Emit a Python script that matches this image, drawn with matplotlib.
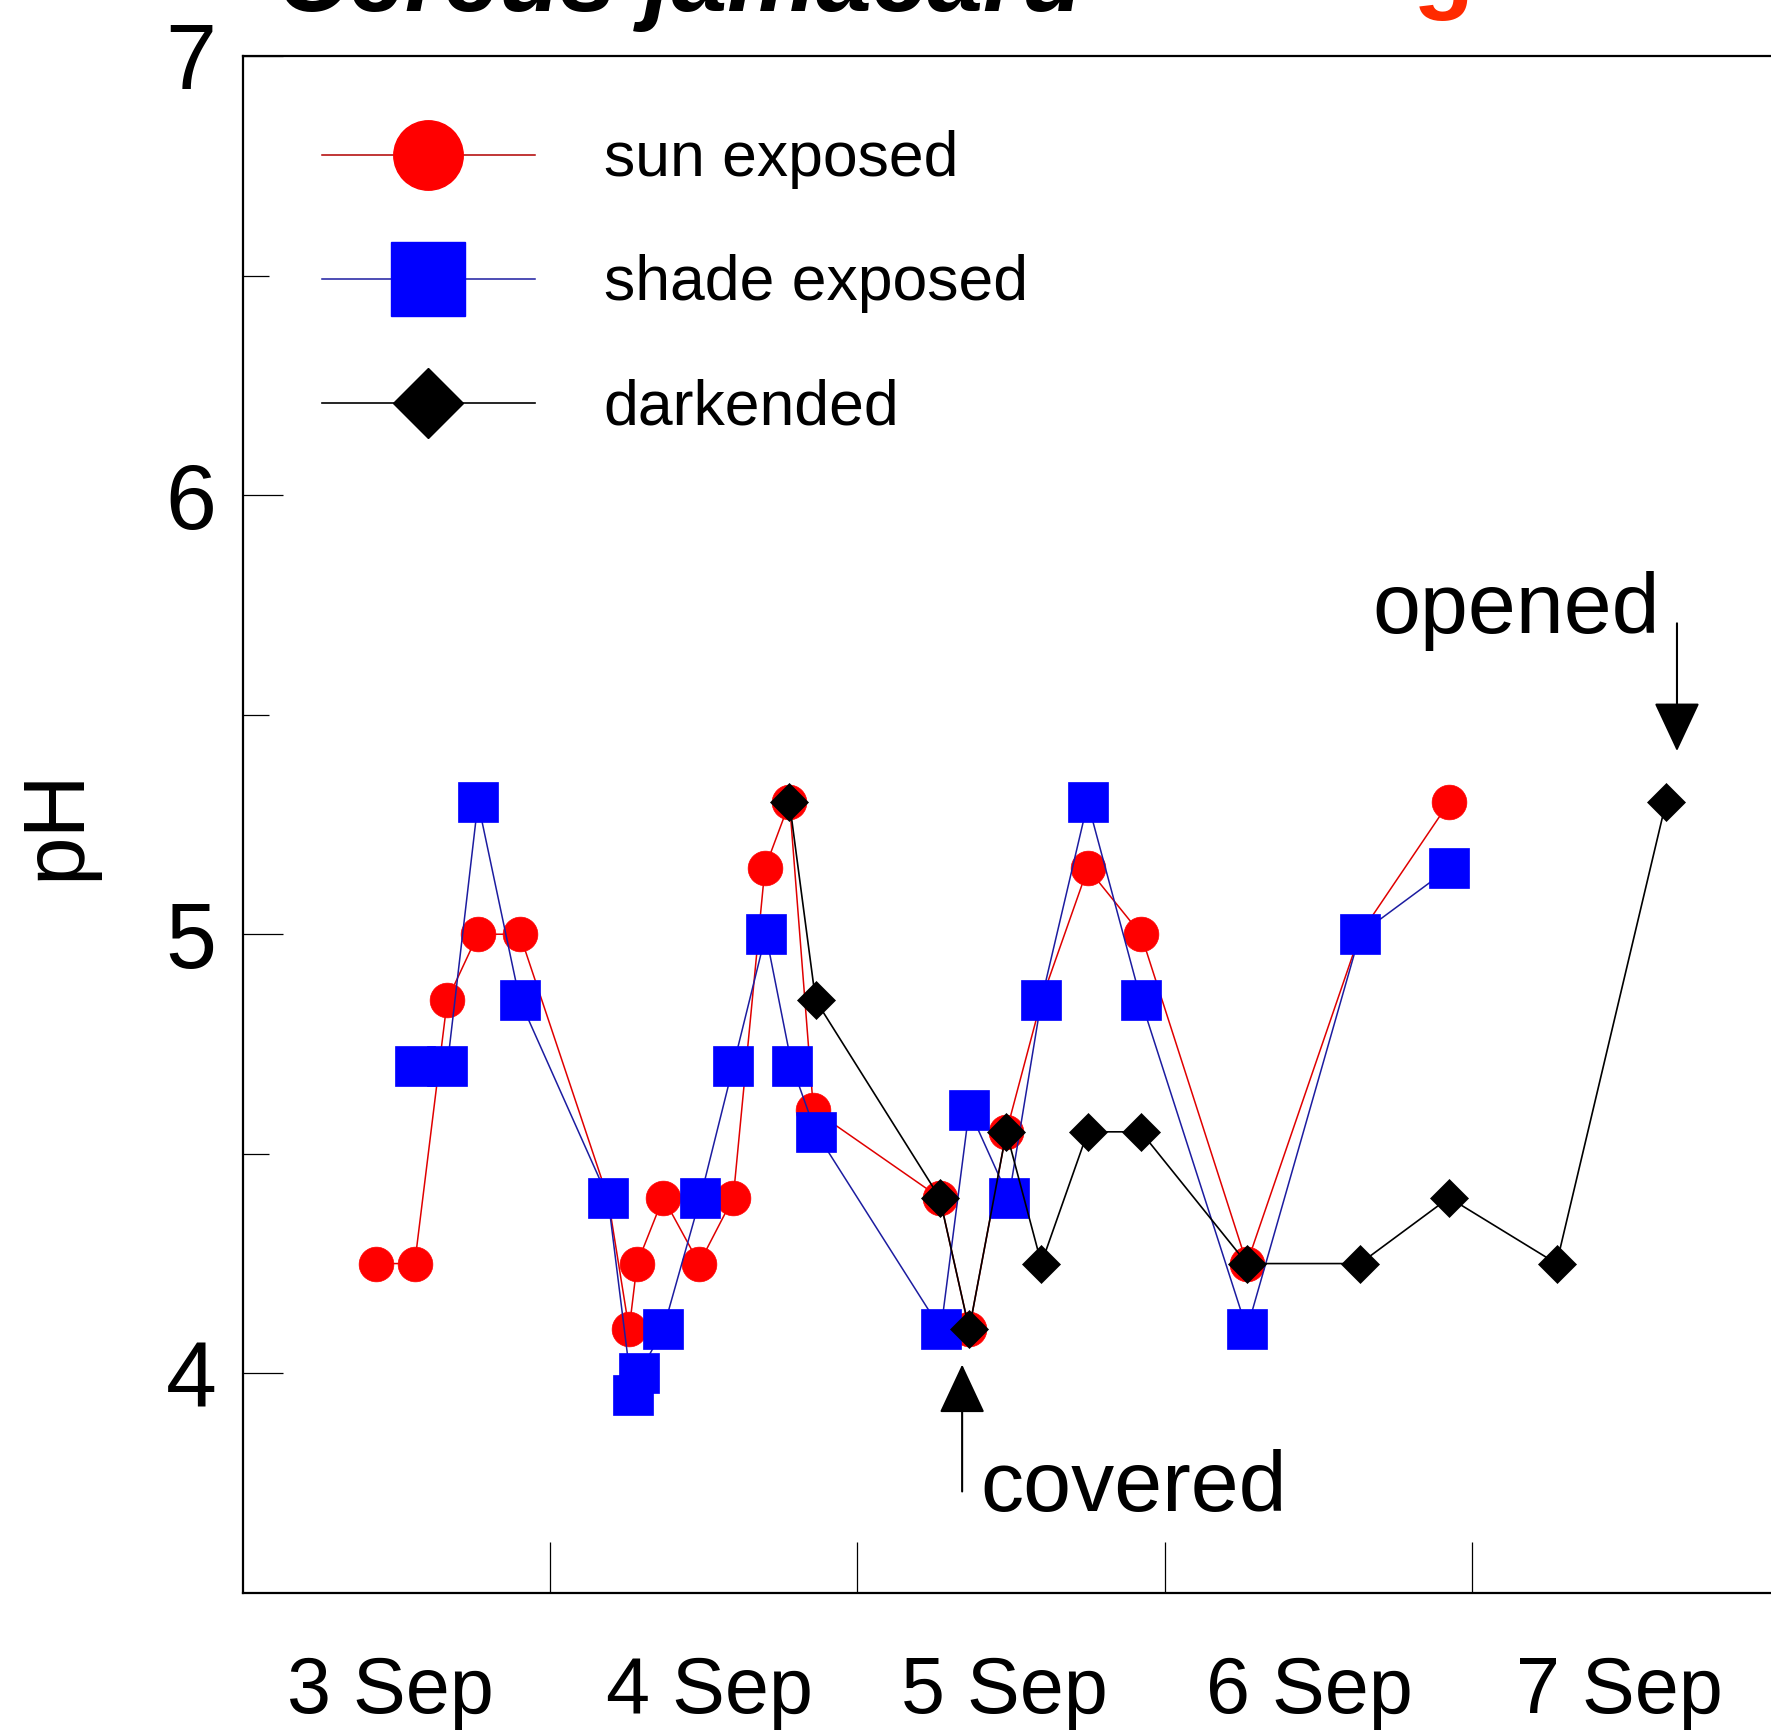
import matplotlib
matplotlib.use("Agg")
import matplotlib.pyplot as plt
from matplotlib.lines import Line2D

plt.rcParams['font.family'] = ['Liberation Sans', 'DejaVu Sans']

# time in days after 3 Sep 00:00, pH of the tissue sap
sun_t = [0.434, 0.559, 0.665, 0.765, 0.901, 1.188, 1.257, 1.283, 1.368, 1.485, 1.596,
         1.699, 1.779, 1.857, 2.268, 2.364, 2.485, 2.599, 2.750, 2.923, 3.268, 3.636, 3.926]
sun_ph = [4.25, 4.25, 4.85, 5.00, 5.00, 4.40, 4.10, 4.25, 4.40, 4.25, 4.40,
          5.15, 5.30, 4.60, 4.40, 4.10, 4.55, 4.85, 5.15, 5.00, 4.25, 5.00, 5.30]

shade_t = [0.559, 0.665, 0.765, 0.901, 1.188, 1.268, 1.290, 1.368, 1.489, 1.596, 1.702,
           1.787, 1.864, 2.272, 2.364, 2.493, 2.599, 2.750, 2.923, 3.268, 3.636, 3.926]
shade_ph = [4.70, 4.70, 5.30, 4.85, 4.40, 3.95, 4.00, 4.10, 4.40, 4.70, 5.00,
            4.70, 4.55, 4.10, 4.60, 4.40, 4.85, 5.30, 4.85, 4.10, 5.00, 5.15]

dark_t = [1.779, 1.864, 2.268, 2.364, 2.485, 2.599, 2.750, 2.923, 3.268, 3.636, 3.926,
          4.276, 4.632]
dark_ph = [5.30, 4.85, 4.40, 4.10, 4.55, 4.25, 4.55, 4.55, 4.25, 4.25, 4.40,
           4.25, 5.30]

day_pos = [0.48, 1.52, 2.48, 3.47, 4.48]
day_labels = ['3 Sep', '4 Sep', '5 Sep', '6 Sep', '7 Sep']

fig = plt.figure(figsize=(17.71, 17.32), dpi=100)
ax = fig.add_axes([0.1372, 0.0803, 0.8673, 0.8874])

ax.plot(sun_t, sun_ph, '-o', color='#e00000', lw=1.1, ms=25,
        mfc='#ff0000', mec='#ff0000', mew=0.5)
ax.plot(shade_t, shade_ph, '-s', color='#1c1ca0', lw=1.1, ms=29,
        mfc='#0000ff', mec='#0000ff', mew=0.5)
ax.plot(dark_t, dark_ph, '-D', color='black', lw=1.2, ms=19,
        mfc='black', mec='black', mew=0.5)

ax.set_xlim(0, 5)
ax.set_ylim(3.5, 7)

# day boundaries as ticks, day names centred in between
ax.set_xticks([1, 2, 3, 4])
ax.set_xticklabels([])
ax.set_xticks(day_pos, minor=True)
ax.set_xticklabels(day_labels, minor=True, fontsize=57)
ax.tick_params(axis='x', which='major', direction='in', length=37, width=0.9)
ax.tick_params(axis='x', which='minor', length=0, pad=45)

ax.set_yticks([4, 5, 6, 7])
ax.set_yticklabels(['4', '5', '6', '7'], fontsize=66)
ax.set_yticks([4.5, 5.5, 6.5], minor=True)
ax.tick_params(axis='y', which='major', direction='in', length=29, width=0.9, pad=19)
ax.tick_params(axis='y', which='minor', direction='in', length=19, width=0.9)

for s in ax.spines.values():
    s.set_linewidth(1.6)

ax.set_ylabel('pH', fontsize=63)
ax.yaxis.set_label_coords(-0.095, 0.5)

handles = [
    Line2D([], [], color='#b00000', lw=1.1, marker='o', ms=50, mfc='#ff0000', mec='#ff0000'),
    Line2D([], [], color='#1c1ca0', lw=1.1, marker='s', ms=53, mfc='#0000ff', mec='#0000ff'),
    Line2D([], [], color='black', lw=1.2, marker='D', ms=36, mfc='black', mec='black'),
]
ax.legend(handles, ['sun exposed', 'shade exposed', 'darkended'],
          loc='upper left', bbox_to_anchor=(0.0514, 0.9515), frameon=False,
          fontsize=45, handlelength=3.41, handletextpad=1.1, labelspacing=1.04,
          borderpad=0, borderaxespad=0, numpoints=1)

arrow = dict(arrowstyle='-|>,head_length=31.7,head_width=14.8', mutation_scale=1,
             color='black', lw=1.5, shrinkA=0, shrinkB=0)
ax.annotate('', xy=(4.668, 5.417), xytext=(4.668, 5.708), arrowprops=arrow)
ax.text(4.613, 5.686, 'opened', ha='right', va='baseline', fontsize=62)
ax.annotate('', xy=(2.341, 4.02), xytext=(2.341, 3.731), arrowprops=arrow)
ax.text(2.399, 3.686, 'covered', ha='left', va='baseline', fontsize=62)

fig.text(277 / 1771, 1 - 11 / 1732, 'Cereus jamacaru', fontsize=72,
         style='italic', weight='bold', ha='left', va='baseline')
fig.text(1443 / 1771, 1.0, 'g', fontsize=72, weight='bold', color='#ff2a00',
         ha='center', va='baseline')

fig.savefig('out.png', dpi=100)
